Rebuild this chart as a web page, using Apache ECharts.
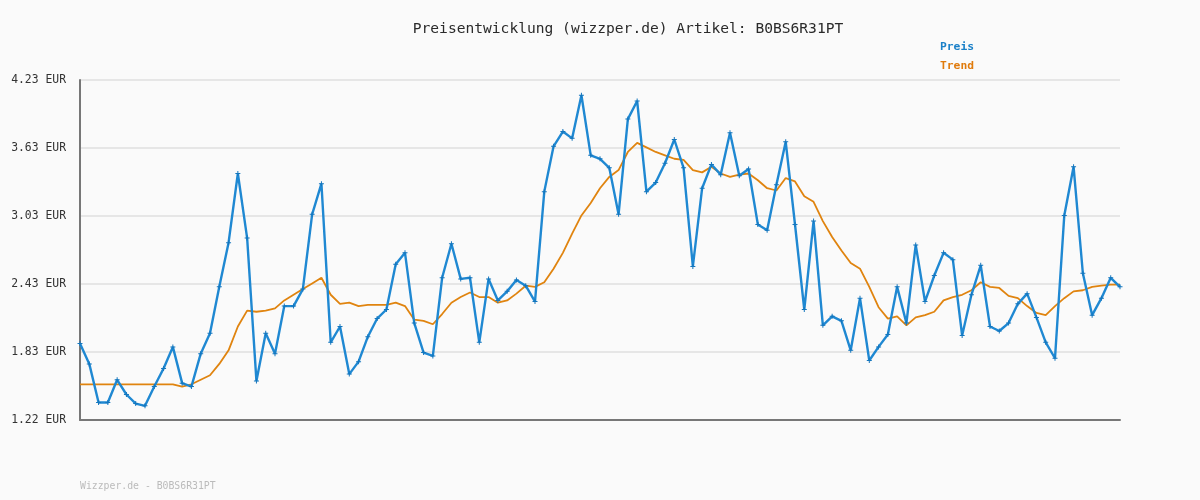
<!DOCTYPE html>
<html>
<head>
<meta charset="utf-8">
<script src="https://cdn.jsdelivr.net/npm/echarts@6/dist/echarts.min.js"></script>
<style>
  html, body { margin: 0; padding: 0; background: #fafafa; }
  #chart { width: 1200px; height: 500px; }
</style>
</head>
<body>
<div id="chart"></div>
<script>
const preis = [
  1.90, 1.72, 1.38, 1.38, 1.58, 1.45, 1.37, 1.35, 1.52, 1.68,
  1.87, 1.55, 1.52, 1.81, 1.99, 2.40, 2.79, 3.40, 2.83, 1.57,
  1.99, 1.81, 2.23, 2.23, 2.38, 3.04, 3.31, 1.91, 2.05, 1.63,
  1.74, 1.96, 2.12, 2.20, 2.60, 2.70, 2.08, 1.82, 1.79, 2.48,
  2.78, 2.47, 2.48, 1.91, 2.47, 2.28, 2.36, 2.46, 2.41, 2.27,
  3.24, 3.64, 3.77, 3.71, 4.09, 3.56, 3.53, 3.45, 3.04, 3.88,
  4.04, 3.24, 3.32, 3.49, 3.70, 3.45, 2.58, 3.27, 3.48, 3.39,
  3.76, 3.38, 3.44, 2.95, 2.90, 3.30, 3.68, 2.95, 2.20, 2.98,
  2.06, 2.14, 2.10, 1.84, 2.30, 1.75, 1.87, 1.98, 2.40, 2.08,
  2.77, 2.27, 2.50, 2.70, 2.64, 1.97, 2.33, 2.59, 2.05, 2.01,
  2.08, 2.25, 2.34, 2.13, 1.91, 1.77, 3.03, 3.46, 2.52, 2.15,
  2.30, 2.48, 2.40
];

const trend = [
  1.54, 1.54, 1.54, 1.54, 1.54, 1.54, 1.54, 1.54, 1.54, 1.54,
  1.54, 1.52, 1.54, 1.58, 1.62, 1.72, 1.84, 2.05, 2.19, 2.18,
  2.19, 2.21, 2.28, 2.33, 2.38, 2.43, 2.48, 2.33, 2.25, 2.26,
  2.23, 2.24, 2.24, 2.24, 2.26, 2.23, 2.11, 2.10, 2.07, 2.16,
  2.26, 2.31, 2.35, 2.31, 2.31, 2.26, 2.28, 2.34, 2.41, 2.40,
  2.44, 2.56, 2.70, 2.87, 3.03, 3.14, 3.27, 3.37, 3.43, 3.59,
  3.67, 3.63, 3.59, 3.56, 3.53, 3.52, 3.43, 3.41, 3.46, 3.40,
  3.37, 3.39, 3.40, 3.34, 3.27, 3.25, 3.36, 3.33, 3.20, 3.15,
  2.98, 2.84, 2.72, 2.61, 2.56, 2.40, 2.22, 2.12, 2.14, 2.06,
  2.13, 2.15, 2.18, 2.28, 2.31, 2.33, 2.37, 2.44, 2.40, 2.39,
  2.32, 2.30, 2.23, 2.17, 2.15, 2.23, 2.30, 2.36, 2.37, 2.40,
  2.41, 2.42, 2.42
];

const tage = preis.map((_, i) => String(i + 1));
const yLabels = ['1.22 EUR', '1.83 EUR', '2.43 EUR', '3.03 EUR', '3.63 EUR', '4.23 EUR'];

const yMin = 1.225;
const yStep = 0.6;
const mono = '"DejaVu Sans Mono", "Liberation Mono", monospace';
const plus = 'path://M2,0 L3,0 L3,2 L5,2 L5,3 L3,3 L3,5 L2,5 L2,3 L0,3 L0,2 L2,2 Z';

const chart = echarts.init(document.getElementById('chart'));
chart.setOption({
  backgroundColor: '#fafafa',
  animation: false,
  title: {
    text: 'Preisentwicklung (wizzper.de) Artikel: B0BS6R31PT',
    left: 623,
    textAlign: 'center',
    top: 17,
    textStyle: { fontFamily: mono, fontSize: 14.6, fontWeight: 'normal', color: '#2a2a2a' }
  },
  legend: {
    orient: 'vertical',
    left: 930,
    top: 37,
    itemGap: 8,
    itemWidth: 0,
    itemHeight: 0,
    icon: 'rect',
    data: [
      { name: 'Preis', textStyle: { color: '#1a80c8' } },
      { name: 'Trend', textStyle: { color: '#e07b0c' } }
    ],
    textStyle: { fontFamily: mono, fontSize: 11.3, fontWeight: 'bold' }
  },
  graphic: [{
    type: 'text',
    left: 80,
    top: 481,
    style: { text: 'Wizzper.de - B0BS6R31PT', fill: '#bbb', font: '9.8px ' + mono }
  }],
  grid: { left: 80, right: 80, top: 80, bottom: 80 },
  xAxis: {
    type: 'category',
    data: tage,
    boundaryGap: false,
    axisLine: { lineStyle: { color: '#777', width: 2 } },
    axisTick: { show: false },
    axisLabel: { show: false },
    splitLine: { show: false }
  },
  yAxis: {
    type: 'value',
    min: yMin,
    max: yMin + yStep * 5,
    interval: yStep,
    axisLine: { show: true, lineStyle: { color: '#777', width: 2 } },
    axisTick: { show: false },
    axisLabel: {
      margin: 14,
      fontFamily: mono,
      fontSize: 11.4,
      color: '#333',
      formatter: (v) => yLabels[Math.round((v - yMin) / yStep)]
    },
    splitLine: { lineStyle: { color: '#e6e6e6', width: 2 } }
  },
  series: [
    {
      name: 'Preis',
      type: 'line',
      data: preis,
      color: '#1a80c8',
      symbol: plus,
      symbolSize: 5,
      showAllSymbol: true,
      lineStyle: { width: 2.4, color: '#1f88d2' },
      itemStyle: { color: '#1476bd' },
      z: 3
    },
    {
      name: 'Trend',
      type: 'line',
      data: trend,
      color: '#e07b0c',
      showSymbol: false,
      symbol: 'none',
      lineStyle: { width: 1.8, color: '#e0840f' },
      z: 2
    }
  ]
});
</script>
</body>
</html>
